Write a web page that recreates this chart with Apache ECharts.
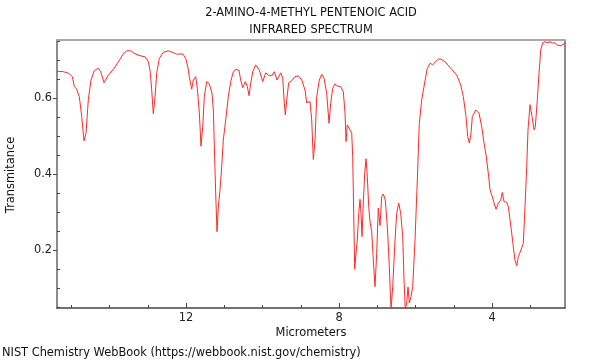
<!DOCTYPE html>
<html><head><meta charset="utf-8">
<script src="https://cdn.jsdelivr.net/npm/echarts@6/dist/echarts.min.js"></script>
<style>html,body{margin:0;padding:0;background:#fff}#c{width:600px;height:360px}</style>
</head><body><div id="c"></div>
<script>
const micrometers = [15.373,15.208,15.077,14.973,14.920,14.858,14.790,14.727,14.667,14.614,14.554,14.484,14.397,14.293,14.230,14.144,14.031,13.900,13.770,13.639,13.550,13.446,13.333,13.203,13.072,12.986,12.941,12.897,12.855,12.810,12.766,12.698,12.593,12.463,12.332,12.243,12.086,12.008,11.948,11.914,11.851,11.809,11.746,11.705,11.652,11.608,11.563,11.522,11.459,11.391,11.320,11.286,11.250,11.216,11.190,11.155,11.111,11.067,11.025,10.962,10.894,10.831,10.763,10.693,10.614,10.570,10.518,10.450,10.397,10.353,10.309,10.256,10.178,10.084,9.995,9.916,9.848,9.760,9.691,9.621,9.524,9.472,9.430,9.404,9.367,9.315,9.237,9.150,9.064,8.975,8.889,8.845,8.758,8.714,8.672,8.627,8.583,8.515,8.452,8.392,8.322,8.261,8.217,8.165,8.105,8.044,7.956,7.888,7.843,7.817,7.783,7.731,7.668,7.642,7.616,7.590,7.556,7.522,7.485,7.451,7.425,7.399,7.365,7.328,7.294,7.260,7.224,7.190,7.145,7.103,7.059,7.015,6.973,6.928,6.884,6.842,6.790,6.737,6.685,6.641,6.596,6.536,6.492,6.439,6.387,6.335,6.301,6.267,6.230,6.196,6.162,6.118,6.073,6.013,5.953,5.901,5.838,5.752,5.691,5.621,5.550,5.490,5.404,5.333,5.229,5.054,4.923,4.818,4.750,4.680,4.635,4.593,4.549,4.515,4.426,4.340,4.269,4.209,4.157,4.097,4.052,3.992,3.948,3.895,3.835,3.773,3.731,3.686,3.616,3.574,3.529,3.485,3.443,3.399,3.354,3.312,3.268,3.224,3.182,3.137,3.093,3.059,3.007,2.954,2.902,2.868,2.816,2.771,2.727,2.675,2.614,2.554,2.484,2.413,2.353,2.293,2.241,2.196,2.136,2.092];
const transmittance = [0.671,0.670,0.666,0.657,0.631,0.624,0.604,0.552,0.488,0.508,0.596,0.648,0.673,0.679,0.670,0.641,0.661,0.676,0.696,0.717,0.725,0.725,0.717,0.712,0.709,0.696,0.674,0.622,0.559,0.604,0.666,0.705,0.721,0.725,0.720,0.716,0.717,0.705,0.680,0.657,0.624,0.648,0.657,0.626,0.561,0.474,0.525,0.604,0.644,0.638,0.613,0.569,0.438,0.324,0.249,0.315,0.359,0.420,0.490,0.543,0.604,0.644,0.670,0.676,0.673,0.648,0.628,0.644,0.631,0.607,0.639,0.670,0.688,0.674,0.644,0.667,0.661,0.659,0.670,0.648,0.667,0.653,0.587,0.556,0.596,0.641,0.646,0.657,0.659,0.648,0.622,0.588,0.591,0.543,0.439,0.490,0.604,0.648,0.663,0.653,0.613,0.534,0.587,0.626,0.638,0.632,0.631,0.617,0.561,0.486,0.530,0.534,0.508,0.446,0.297,0.150,0.192,0.227,0.297,0.334,0.297,0.236,0.324,0.403,0.441,0.394,0.315,0.275,0.249,0.174,0.104,0.192,0.311,0.265,0.341,0.348,0.332,0.262,0.157,0.044,0.104,0.227,0.297,0.324,0.297,0.236,0.122,0.044,0.061,0.103,0.061,0.078,0.104,0.227,0.385,0.534,0.596,0.646,0.679,0.692,0.688,0.695,0.703,0.703,0.696,0.676,0.661,0.635,0.604,0.552,0.499,0.482,0.508,0.552,0.569,0.561,0.525,0.482,0.451,0.403,0.359,0.341,0.324,0.308,0.324,0.332,0.352,0.328,0.326,0.315,0.280,0.245,0.209,0.174,0.159,0.183,0.194,0.196,0.218,0.315,0.420,0.517,0.583,0.552,0.517,0.525,0.596,0.666,0.727,0.746,0.749,0.746,0.749,0.745,0.746,0.740,0.745,0.738,0.743,0.743];
const xTickLabels = [4, 8, 12];
const xMinorTicks = [3, 5, 6, 7, 9, 10, 11, 13, 14, 15];
const yTickLabels = [0.2, 0.4, 0.6];
const yMinorTicks = [0.05, 0.1, 0.15, 0.25, 0.3, 0.35, 0.45, 0.5, 0.55, 0.65, 0.7, 0.75];
const titleLines = ['2-AMINO-4-METHYL PENTENOIC ACID', 'INFRARED SPECTRUM'];
const xName = 'Micrometers';
const yName = 'Transmitance';
const footer = 'NIST Chemistry WebBook (https://webbook.nist.gov/chemistry)';

const X_MIN = 2.092, X_MAX = 15.373, Y_MIN = 0.048, Y_MAX = 0.7534;
const FF = '"DejaVu Sans", sans-serif';
const FS = 11.4;
const data = micrometers.map((m, i) => [m, transmittance[i]]);
const chart = echarts.init(document.getElementById('c'), null, {renderer: 'canvas'});
const noSplit = {show: false};
chart.setOption({
  animation: false,
  backgroundColor: '#fff',
  grid: {left: 57, right: 35, top: 40, bottom: 52},
  xAxis: [
    {type: 'value', inverse: true, min: X_MIN, max: X_MAX, position: 'bottom',
     axisLine: {show: true, lineStyle: {color: '#444', width: 1.5}},
     axisTick: {show: true, inside: true, length: 5, customValues: xTickLabels, lineStyle: {color: '#444'}},
     axisLabel: {customValues: xTickLabels, fontSize: FS, color: '#222', margin: 5, fontFamily: FF},
     splitLine: noSplit},
    {type: 'value', inverse: true, min: X_MIN, max: X_MAX, position: 'bottom',
     axisLine: {show: false},
     axisTick: {show: true, inside: true, length: 3, customValues: xMinorTicks, lineStyle: {color: '#444'}},
     axisLabel: {show: false}, splitLine: noSplit},
    {type: 'value', inverse: true, min: X_MIN, max: X_MAX, position: 'top',
     axisLine: {show: true, lineStyle: {color: '#aaa', width: 2}},
     axisTick: {show: false}, axisLabel: {show: false}, splitLine: noSplit}
  ],
  yAxis: [
    {type: 'value', min: Y_MIN, max: Y_MAX, position: 'left',
     axisLine: {show: true, lineStyle: {color: '#666', width: 1.5}},
     axisTick: {show: true, inside: false, length: 4, customValues: yTickLabels, lineStyle: {color: '#444'}},
     axisLabel: {customValues: yTickLabels, formatter: v => v.toFixed(1), fontSize: FS, color: '#222', margin: 5, fontFamily: FF},
     splitLine: noSplit},
    {type: 'value', min: Y_MIN, max: Y_MAX, position: 'left',
     axisLine: {show: false},
     axisTick: {show: true, inside: true, length: 3, customValues: yMinorTicks, lineStyle: {color: '#444'}},
     axisLabel: {show: false}, splitLine: noSplit},
    {type: 'value', min: Y_MIN, max: Y_MAX, position: 'right',
     axisLine: {show: true, lineStyle: {color: '#666', width: 1.5}},
     axisTick: {show: false}, axisLabel: {show: false}, splitLine: noSplit}
  ],
  series: [{
    type: 'line', xAxisIndex: 0, yAxisIndex: 0, data: data,
    symbol: 'none', showSymbol: false, silent: true,
    lineStyle: {color: '#ff2a2a', width: 1}
  }],
  graphic: [
    {type: 'text', x: 311, y: 13, style: {text: titleLines[0], font: FS + 'px ' + FF, fill: '#111', align: 'center', verticalAlign: 'middle'}},
    {type: 'text', x: 311, y: 30, style: {text: titleLines[1], font: FS + 'px ' + FF, fill: '#111', align: 'center', verticalAlign: 'middle'}},
    {type: 'text', x: 311, y: 333, style: {text: xName, font: FS + 'px ' + FF, fill: '#111', align: 'center', verticalAlign: 'middle'}},
    {type: 'text', x: 11, y: 175, rotation: Math.PI / 2, style: {text: yName, font: FS + 'px ' + FF, fill: '#111', align: 'center', verticalAlign: 'middle'}},
    {type: 'text', x: 2, y: 353, style: {text: footer, font: FS + 'px ' + FF, fill: '#111', align: 'left', verticalAlign: 'middle'}}
  ]
});
</script>
</body></html>
